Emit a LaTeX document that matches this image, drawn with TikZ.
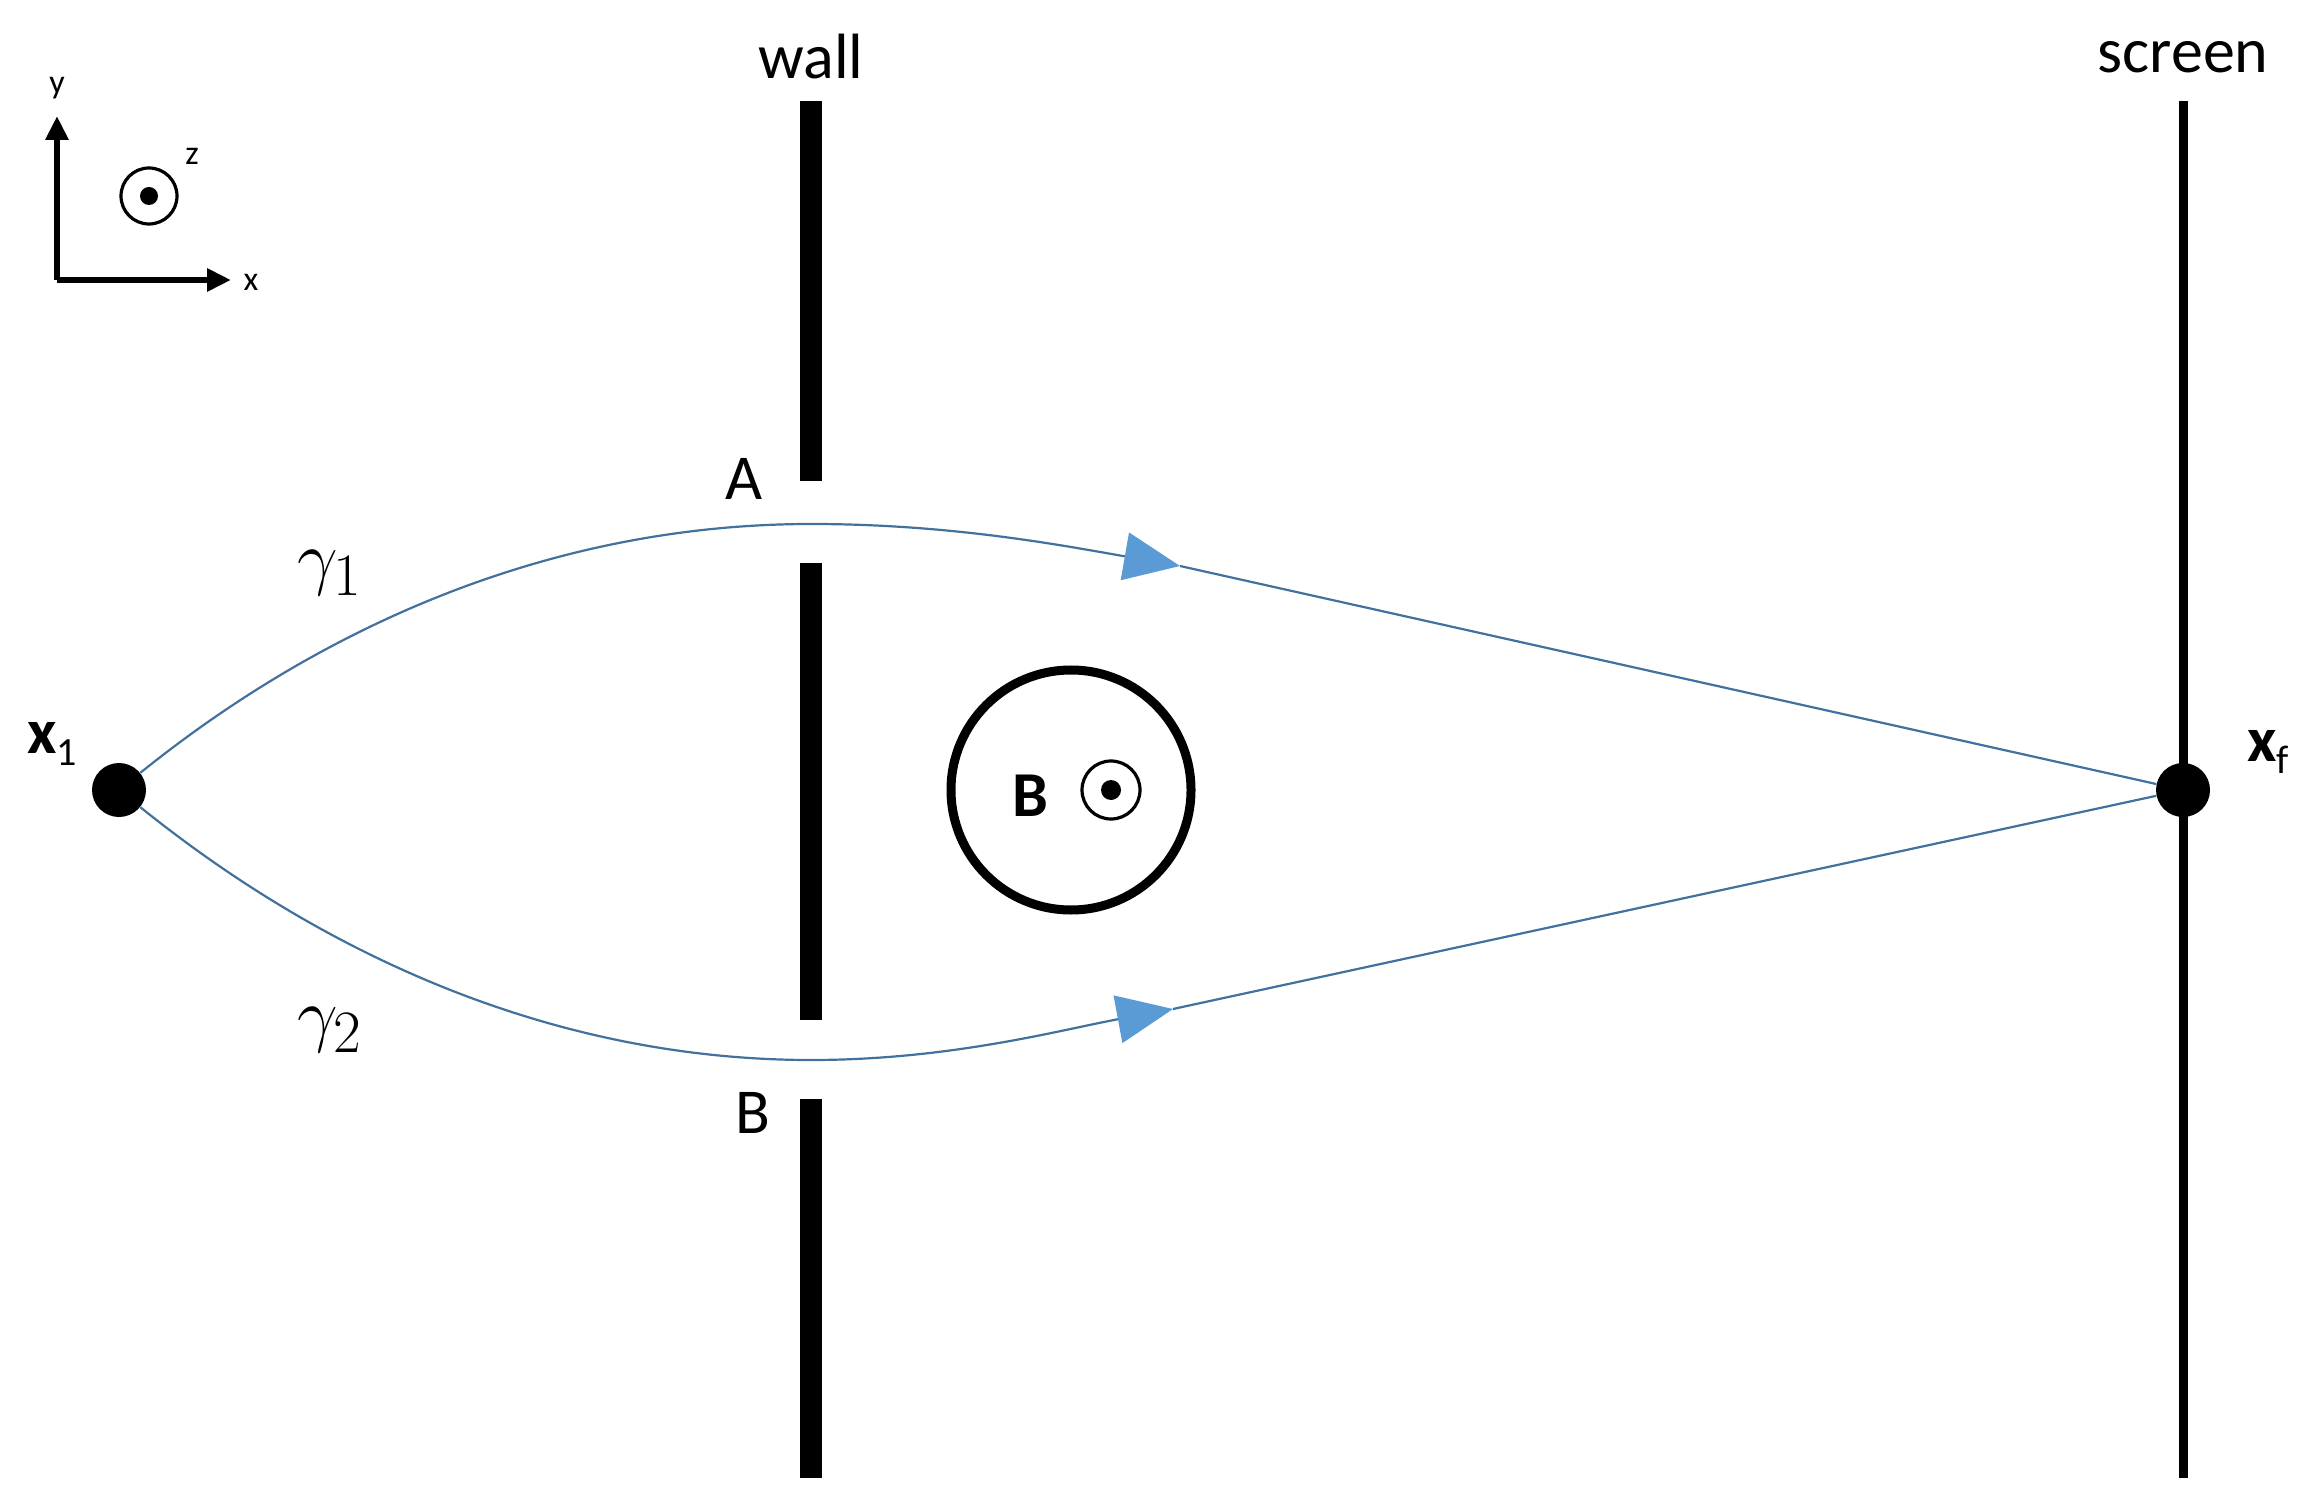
\documentclass[tikz,border=0pt]{standalone}
\usepackage{fontspec}
\setmainfont{Carlito}
\usetikzlibrary{arrows.meta}
\begin{document}
\begin{tikzpicture}[x=0.5pt,y=-0.5pt,
  wallseg/.style={line width=11pt},
  pathline/.style={draw=pathblue,line width=1.1pt},
  tip/.style={-{Triangle[length=28pt,width=24pt,fill=arrowblue,color=arrowblue]}},
  lbl/.style={font=\fontsize{32}{36}\selectfont,inner sep=0pt},
  small/.style={font=\fontsize{17}{19}\selectfont,inner sep=0pt},
  dotc/.style={circle,fill=black,inner sep=0pt,minimum size=27pt}]
\definecolor{pathblue}{HTML}{41719C}
\definecolor{arrowblue}{HTML}{5B9BD5}
\useasboundingbox (0,0) rectangle (2322,1507);
\fill[white] (0,0) rectangle (2322,1507);
% walls
\draw[wallseg] (811,101) -- (811,481);
\draw[wallseg] (811,563) -- (811,1020);
\draw[wallseg] (811,1099) -- (811,1478);
\draw[line width=4.5pt] (2183,101) -- (2183,1478);
% field region
\draw[line width=4.5pt] (1071,790) circle[radius=120];
\node[lbl,font=\fontsize{32}{36}\selectfont\bfseries] (Blbl) at (1030,796) {B};
\draw[line width=1.6pt] (1111,790) circle[radius=29];
\fill (1111,790) circle[radius=10];
% points
\node[dotc] (x1) at (119,790) {};
\node[dotc] (xf) at (2183,790) {};
\coordinate (a1) at (1180,566);
\coordinate (a2) at (1173,1009);
% paths
\draw[pathline,tip] (x1) .. controls (330,620) and (560,524) .. (811,524) .. controls (950,524) and (1060,545) .. (a1);
\draw[pathline] (a1) -- (xf);
\draw[pathline,tip] (x1) .. controls (330,960) and (560,1060) .. (811,1060) .. controls (950,1060) and (1060,1030) .. (a2);
\draw[pathline] (a2) -- (xf);
% labels
\node[lbl] (wall) at (811,57) {wall};
\node[lbl] (screen) at (2183,57) {screen};
\node[lbl] (A) at (744,479) {A};
\node[lbl] (Bs) at (753,1113) {B};
\node[lbl] (g1) at (330,573) {\scalebox{1.45}{$\gamma_1$}};
\node[lbl] (g2) at (330,1030) {\scalebox{1.45}{$\gamma_2$}};
\node[lbl,font=\fontsize{32}{36}\selectfont\bfseries] (x1l) at (52,744) {x\textmd{\fontsize{20}{22}\selectfont\raisebox{-6pt}{1}}};
\node[lbl,font=\fontsize{32}{36}\selectfont\bfseries] (xfl) at (2268,752) {x\textmd{\fontsize{20}{22}\selectfont\raisebox{-6pt}{f}}};
% axes
\coordinate (o) at (57,280);
\coordinate (yend) at (57,116);
\coordinate (xend) at (231,280);
\draw[line width=3pt,-{Triangle[length=12pt,width=11pt]}] (o) -- (yend);
\draw[line width=3pt,-{Triangle[length=12pt,width=11pt]}] (o) -- (xend);
\node[small] (yl) at (57,88) {y};
\node[small] (xl) at (251,282) {x};
\node[small] (zl) at (192,156) {z};
\draw[line width=1.6pt] (149,196) circle[radius=28];
\fill (149,196) circle[radius=9];
\end{tikzpicture}
\end{document}
